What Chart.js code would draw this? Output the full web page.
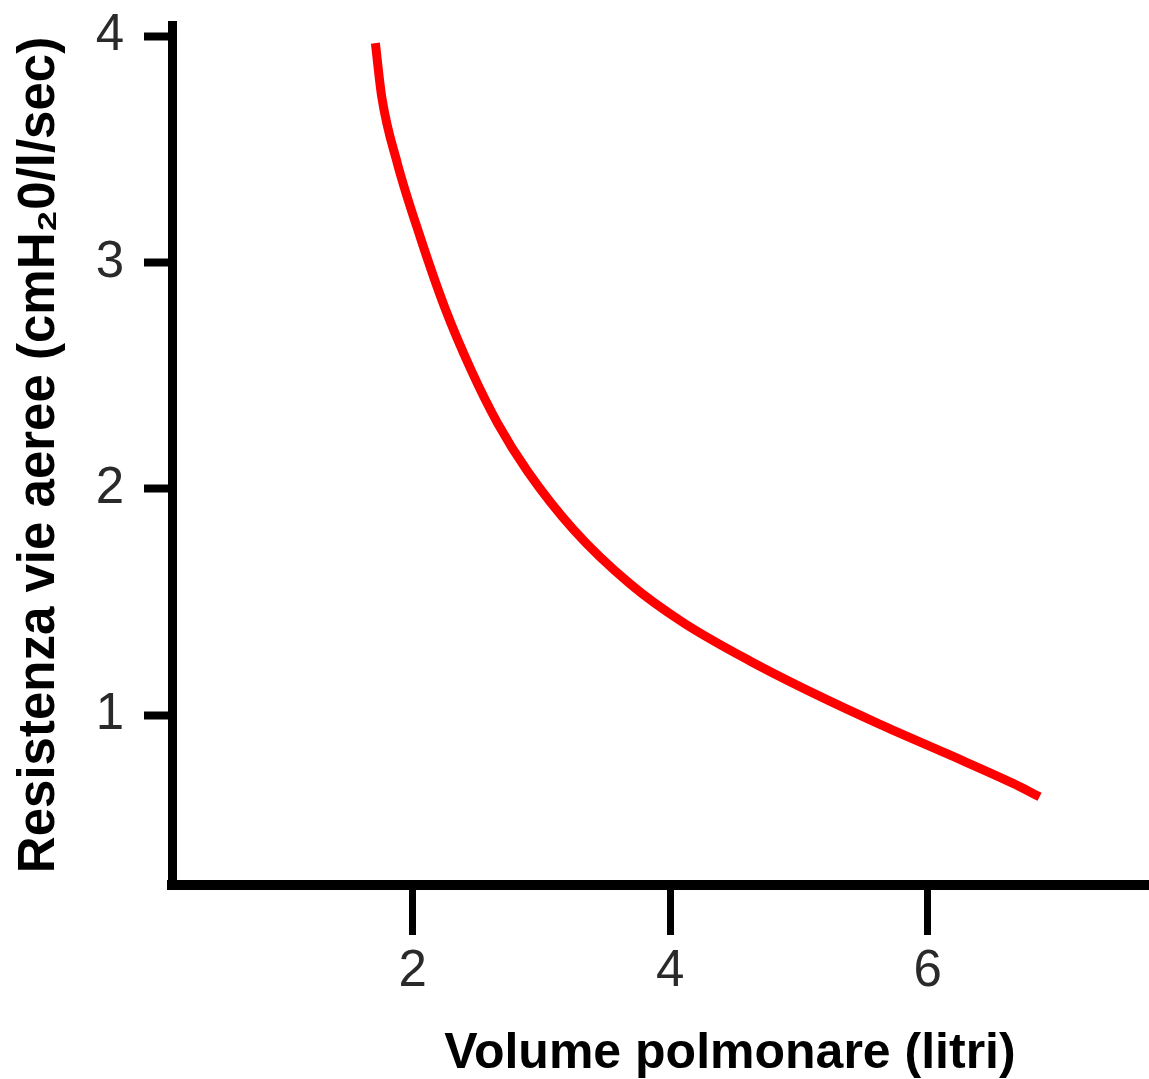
<!DOCTYPE html>
<html>
<head>
<meta charset="utf-8">
<script src="https://cdn.jsdelivr.net/npm/chart.js@4.4.1/dist/chart.umd.min.js"></script>
<style>
  html, body { margin: 0; padding: 0; background: #ffffff; }
  #wrap { width: 1149px; height: 1079px; position: relative; }
</style>
</head>
<body>
<div id="wrap"><canvas id="c"></canvas></div>
<script>
// Data
const volumeLitri = [1.71, 1.76, 1.88, 2.06, 2.25, 2.45, 2.66, 2.89, 3.25, 3.69, 4.10, 4.62, 5.14, 5.63, 6.15, 6.66, 6.87];
const resistenza  = [3.97, 3.73, 3.44, 3.11, 2.80, 2.53, 2.29, 2.08, 1.82, 1.58, 1.41, 1.24, 1.09, 0.96, 0.83, 0.70, 0.64];
const xTickValues = [2, 4, 6];
const yTickValues = [1, 2, 3, 4];
const xTitle = 'Volume polmonare (litri)';
const yTitle = 'Resistenza vie aeree (cmH\u20820/l/sec)';

const points = volumeLitri.map((v, i) => ({ x: v, y: resistenza[i] }));
const FONT = "'Liberation Sans', Arial, sans-serif";

new Chart(document.getElementById('c'), {
  type: 'line',
  data: {
    datasets: [{
      data: points,
      borderColor: '#ff0000',
      borderWidth: 9,
      pointRadius: 0,
      fill: false,
      cubicInterpolationMode: 'monotone'
    }]
  },
  options: {
    responsive: true,
    maintainAspectRatio: false,
    animation: false,
    layout: { padding: { top: 25, right: 0, left: 0, bottom: 0 } },
    plugins: { legend: { display: false }, tooltip: { enabled: false } },
    scales: {
      x: {
        type: 'linear',
        min: 0.13,
        max: 7.72,
        afterBuildTicks: (s) => { s.ticks = xTickValues.map(v => ({ value: v })); },
        afterFit: (s) => { s.height = 194; s.paddingLeft = 0; s.paddingRight = 0; },
        border: { display: true, color: '#000', width: 10 },
        grid: { display: true, drawOnChartArea: false, color: '#000', tickLength: 50, tickWidth: 7 },
        ticks: { color: '#2a2a2a', padding: 6, font: { family: FONT, size: 51 }, maxRotation: 0 },
        title: {
          display: true,
          text: '          ' + xTitle,
          color: '#000',
          font: { family: FONT, size: 50, weight: 'bold', lineHeight: 1.0 },
          padding: { top: 0, bottom: 0 }
        }
      },
      y: {
        type: 'linear',
        min: 0.25,
        max: 4.05,
        afterBuildTicks: (s) => { s.ticks = yTickValues.map(v => ({ value: v })); },
        afterFit: (s) => { s.width = 172; s.paddingTop = 0; s.paddingBottom = 0; },
        border: { display: true, color: '#000', width: 9 },
        grid: { display: true, drawOnChartArea: false, color: '#000', tickLength: 28, tickWidth: 8 },
        ticks: { color: '#2a2a2a', padding: 20, font: { family: FONT, size: 51 } },
        title: {
          display: true,
          text: yTitle,
          color: '#000',
          font: { family: FONT, size: 51, weight: 'bold', lineHeight: 1.0 },
          padding: { top: 14, bottom: 0 }
        }
      }
    }
  }
});
</script>
</body>
</html>
